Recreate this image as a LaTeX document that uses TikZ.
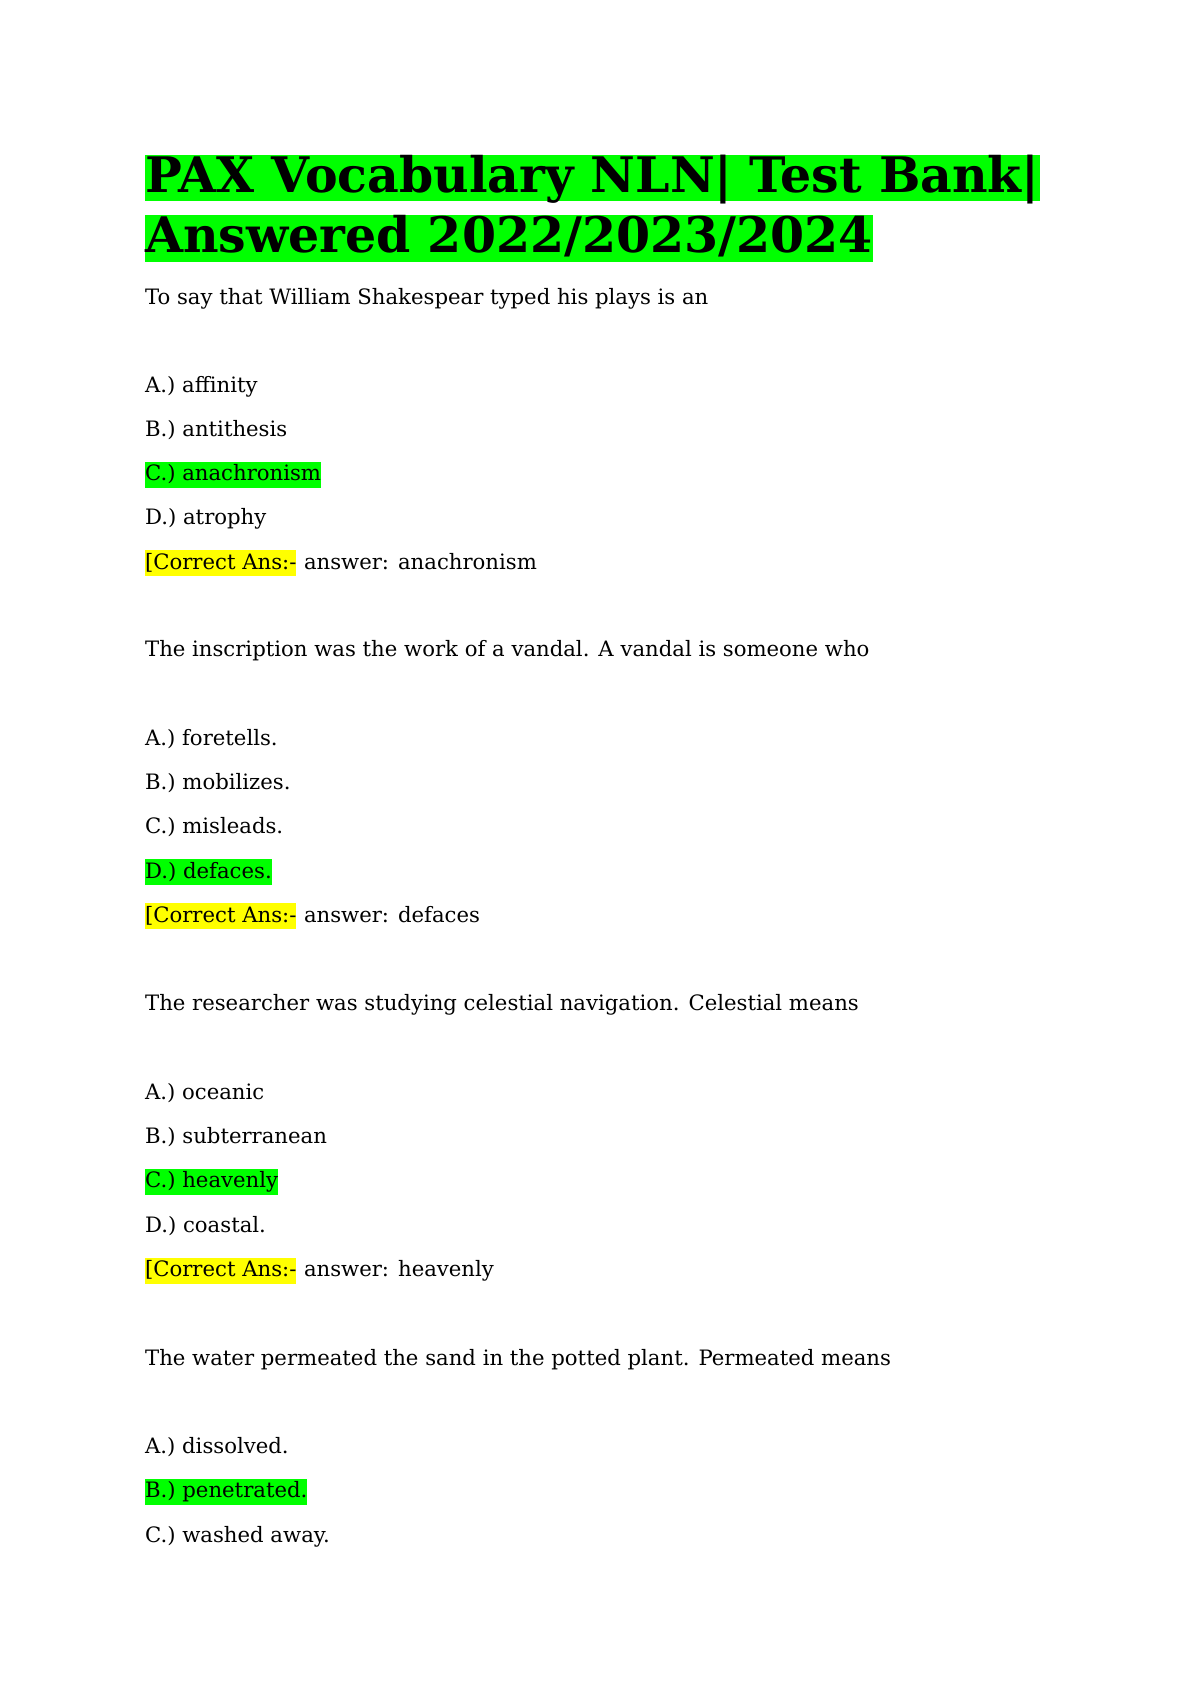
\documentclass[tikz,border=0pt]{standalone}
\usepackage{fontspec}
\setmainfont{DejaVu Serif}
\definecolor{hlg}{HTML}{00FF00}
\definecolor{hly}{HTML}{FFFF00}
\begin{document}
\begin{tikzpicture}[x=0.54pt,y=-0.54pt,
  txt/.style={anchor=base west,inner sep=0pt,font=\fontsize{10.6}{12}\selectfont},
  hl/.style={txt,fill=#1,inner ysep=1.2pt,text height=1.6ex,text depth=0.45ex},
  ttl/.style={anchor=base west,inner xsep=0pt,inner ysep=0pt,fill=hlg,font=\bfseries\fontsize{24.5}{28}\selectfont,text height=3.6ex,text depth=0.85ex}]
\useasboundingbox (0,0) rectangle (1102.8,1559.3);
\node[ttl] (t1) at (134,178) {PAX Vocabulary NLN| Test Bank|};
\node[ttl] (t2) at (134,234) {Answered 2022/2023/2024};
\node[txt] (q1) at (134,282) {To say that William Shakespear typed his plays is an};
\node[txt] (q1a) at (134,363) {A.) affinity};
\node[txt] (q1b) at (134,404) {B.) antithesis};
\node[hl=hlg] (q1c) at (134,445) {C.) anachronism};
\node[txt] (q1d) at (134,486) {D.) atrophy};
\node[hl=hly] (q1k) at (134,527) {[Correct Ans:-};
\node[txt] (q1r) at (q1k.base east) {\ answer: anachronism};
\node[txt] (q2) at (134,608) {The inscription was the work of a vandal. A vandal is someone who};
\node[txt] (q2a) at (134,690) {A.) foretells.};
\node[txt] (q2b) at (134,731) {B.) mobilizes.};
\node[txt] (q2c) at (134,772) {C.) misleads.};
\node[hl=hlg] (q2d) at (134,813) {D.) defaces.};
\node[hl=hly] (q2k) at (134,854) {[Correct Ans:-};
\node[txt] (q2r) at (q2k.base east) {\ answer: defaces};
\node[txt] (q3) at (134,936) {The researcher was studying celestial navigation. Celestial means};
\node[txt] (q3a) at (134,1018) {A.) oceanic};
\node[txt] (q3b) at (134,1059) {B.) subterranean};
\node[hl=hlg] (q3c) at (134,1100) {C.) heavenly};
\node[txt] (q3d) at (134,1141) {D.) coastal.};
\node[hl=hly] (q3k) at (134,1182) {[Correct Ans:-};
\node[txt] (q3r) at (q3k.base east) {\ answer: heavenly};
\node[txt] (q4) at (134,1264) {The water permeated the sand in the potted plant. Permeated means};
\node[txt] (q4a) at (134,1346) {A.) dissolved.};
\node[hl=hlg] (q4b) at (134,1387) {B.) penetrated.};
\node[txt] (q4c) at (134,1428) {C.) washed away.};
\end{tikzpicture}
\end{document}
